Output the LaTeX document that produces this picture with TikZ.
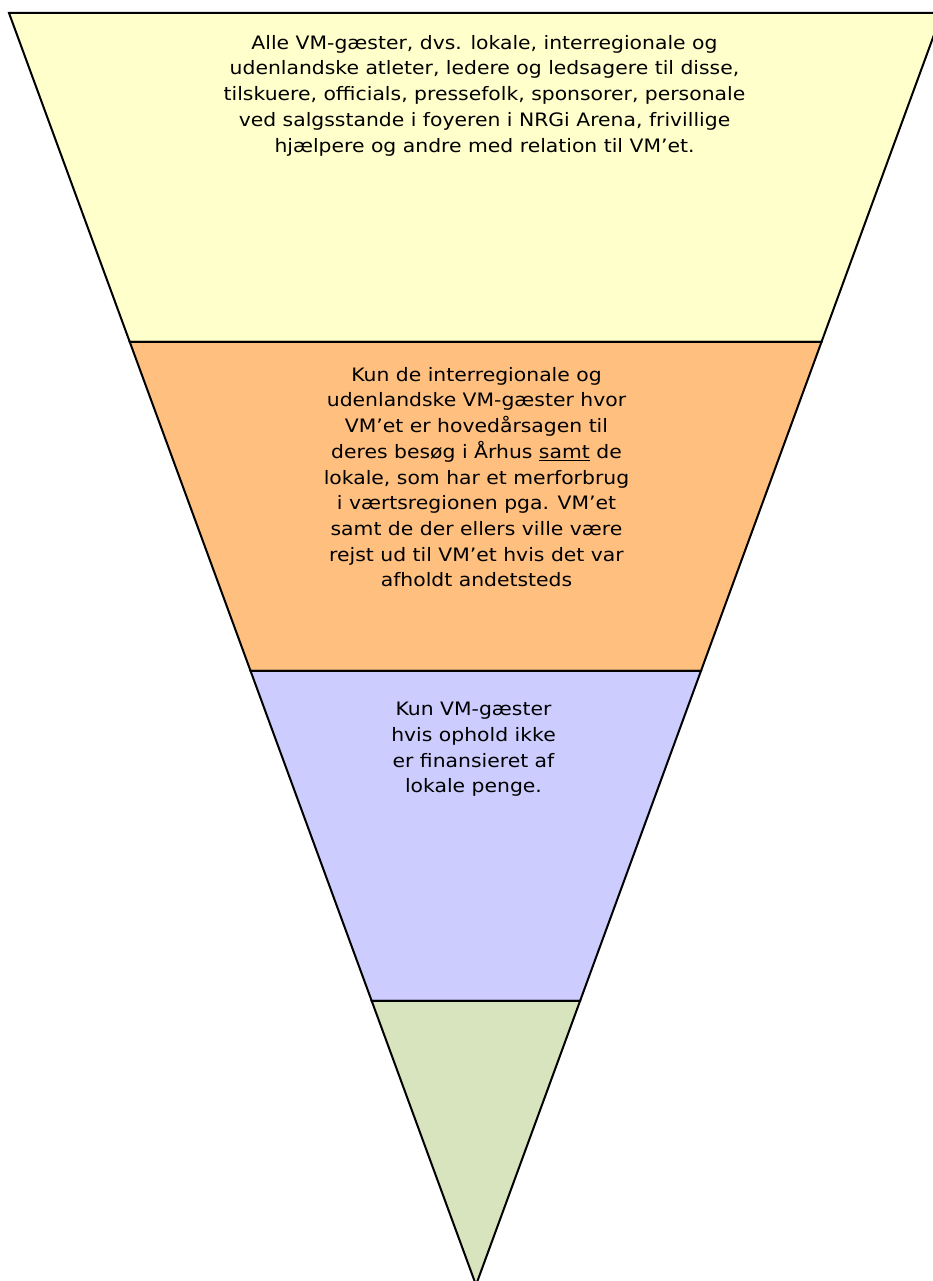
\documentclass[tikz,border=0pt]{standalone}
\usepackage{fontspec}
\setmainfont{DejaVu Sans}[FakeStretch=1.1]
\usetikzlibrary{calc}
\definecolor{cYellow}{HTML}{FFFFCC}
\definecolor{cOrange}{HTML}{FFBF7F}
\definecolor{cBlue}{HTML}{CCCCFF}
\definecolor{cGreen}{HTML}{D7E4BD}
\tikzset{
  band/.style={draw=black, line width=2pt, line join=miter},
  label/.style={align=center, anchor=north, inner sep=0pt, font=\fontsize{18.5}{25.7}\selectfont, text=black}
}
\begin{document}
\begin{tikzpicture}[x=1pt,y=-1pt]
\useasboundingbox (0,0) rectangle (932,1281);
\fill[white] (0,0) rectangle (932,1281);
\coordinate (TL) at (9,13);
\coordinate (TR) at (942,13);
\coordinate (A) at (476,1285);
\coordinate (L1) at ($(TL)!{329/1272}!(A)$);
\coordinate (R1) at ($(TR)!{329/1272}!(A)$);
\coordinate (L2) at ($(TL)!{658/1272}!(A)$);
\coordinate (R2) at ($(TR)!{658/1272}!(A)$);
\coordinate (L3) at ($(TL)!{988/1272}!(A)$);
\coordinate (R3) at ($(TR)!{988/1272}!(A)$);
\draw[band, fill=cYellow] (TL) -- (TR) -- (R1) -- (L1) -- cycle;
\draw[band, fill=cOrange] (L1) -- (R1) -- (R2) -- (L2) -- cycle;
\draw[band, fill=cBlue] (L2) -- (R2) -- (R3) -- (L3) -- cycle;
\draw[band, fill=cGreen] (L3) -- (R3) -- (A) -- cycle;
\node[label] (t1) at (484.5,35) {Alle VM-gæster, dvs. lokale, interregionale og\\udenlandske atleter, ledere og ledsagere til disse,\\tilskuere, officials, pressefolk, sponsorer, personale\\ved salgsstande i foyeren i NRGi Arena, frivillige\\hjælpere og andre med relation til VM’et.};
\node[label] (t2) at (476.5,367) {Kun de interregionale og\\udenlandske VM-gæster hvor\\VM’et er hovedårsagen til\\deres besøg i Århus \underline{samt} de\\lokale, som har et merforbrug\\i værtsregionen pga. VM’et\\samt de der ellers ville være\\rejst ud til VM’et hvis det var\\afholdt andetsteds};
\node[label] (t3) at (473.5,702) {Kun VM-gæster\\hvis ophold ikke\\er finansieret af\\lokale penge.};
\end{tikzpicture}
\end{document}
